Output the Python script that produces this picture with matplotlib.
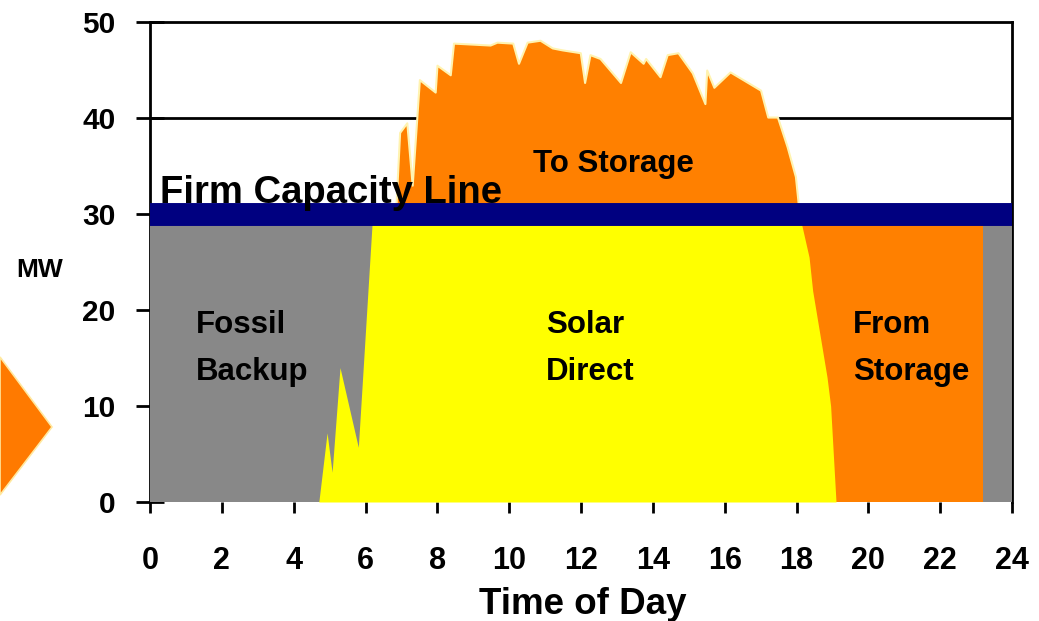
import numpy as np
import matplotlib
matplotlib.use('Agg')
import matplotlib.pyplot as plt
from matplotlib.patches import Polygon

plt.rcParams['font.family'] = ['Liberation Sans', 'DejaVu Sans']

# solar output over the day (hour, MW)
solar_hours = [4.7, 4.93, 5.07, 5.29, 5.8, 6.18, 6.5, 6.85, 6.95, 7.15, 7.3, 7.5,
               7.94, 7.99, 8.36, 8.45, 9.47, 9.66, 10.1, 10.26, 10.5, 10.86, 11.2,
               11.47, 11.98, 12.1, 12.25, 12.53, 13.1, 13.37, 13.73, 13.8, 14.2,
               14.4, 14.7, 15.1, 15.45, 15.5, 15.7, 16.15, 17.0, 17.2, 17.47, 17.74,
               17.97, 18.05, 18.15, 18.35, 18.45, 18.85, 18.95, 19.1]
solar_mw = [0, 7.2, 3.1, 14, 5.7, 28.8, 30.0, 31.0, 38.5, 39.5, 33, 44,
            42.7, 45.5, 44.5, 47.8, 47.6, 47.9, 47.8, 45.7, 47.9, 48.1, 47.3,
            47.1, 46.8, 43.7, 46.6, 46.2, 43.7, 46.9, 45.7, 46.2, 44.3,
            46.6, 46.8, 44.7, 41.5, 45, 43.2, 44.8, 42.9, 40.1, 40.1, 37,
            33.9, 31.0, 28.8, 25.5, 22, 13, 10, 0]

firm_capacity = 30
storage_start = 18.0
storage_end = 23.2
x_ticks = list(range(0, 25, 2))
y_ticks = [0, 10, 20, 30, 40, 50]

hours = np.array(solar_hours)
solar = np.array(solar_mw)

fig = plt.figure(figsize=(10.39, 6.21), dpi=100)
ax = fig.add_axes([150 / 1039, 119 / 621, 862 / 1039, 480 / 621])

orange = '#FF8000'
gray = '#888888'
yellow = '#FFFF00'
navy = '#000080'

ax.axhline(40, color='black', lw=2, zorder=1)

# fossil backup under the firm line
ax.fill_between([0, 24], 0, firm_capacity, color=gray, lw=0, zorder=3)
# from storage
ax.fill_between([storage_start, storage_end], 0, firm_capacity, color=orange, lw=0, zorder=3)
# solar direct
ax.fill_between(hours, 0, np.minimum(solar, firm_capacity), color=yellow, lw=0, zorder=4)
# to storage
ax.fill_between(hours, firm_capacity, solar, where=solar >= firm_capacity,
                facecolor=orange, edgecolor='#FFF3B0', lw=1.5, zorder=4)
# firm capacity line
ax.axhline(firm_capacity, color=navy, lw=16.5, zorder=5)

ax.set_xlim(0, 24)
ax.set_ylim(0, 50)
ax.set_xticks(x_ticks)
ax.set_yticks(y_ticks)
ax.tick_params(axis='y', direction='inout', length=20, width=2, labelsize=21.5, pad=15)
ax.tick_params(axis='x', direction='out', length=8, width=2, labelsize=22, pad=24)
for lab in ax.get_xticklabels() + ax.get_yticklabels():
    lab.set_fontweight('bold')
for s in ['left', 'right', 'top']:
    ax.spines[s].set_linewidth(2)
ax.spines['bottom'].set_visible(False)

txt = dict(fontsize=22.5, fontweight='bold', color='black', zorder=6, va='baseline', ha='left')
ax.text(0.28, 31.1, 'Firm Capacity Line', **dict(txt, fontsize=27.5))
ax.text(10.67, 34.4, 'To Storage', **txt)
ax.text(1.28, 17.6, 'Fossil', **txt)
ax.text(1.28, 12.7, 'Backup', **txt)
ax.text(11.03, 17.6, 'Solar', **txt)
ax.text(11.03, 12.7, 'Direct', **txt)
ax.text(19.58, 17.6, 'From', **txt)
ax.text(19.58, 12.7, 'Storage', **txt)

fig.text(40 / 1039, 1 - 270 / 621, 'MW', ha='center', va='center', fontsize=19, fontweight='bold')
fig.text(583 / 1039, 1 - 604 / 621, 'Time of Day', ha='center', va='center', fontsize=26.5, fontweight='bold')

# arrow from the slide on the left
arrow = Polygon([(0, 1 - 357 / 621), (52 / 1039, 1 - 427 / 621), (0, 1 - 495 / 621)],
                closed=True, transform=fig.transFigure, facecolor='#FF7A00',
                edgecolor='#FFE9A0', lw=1.2)
fig.patches.append(arrow)

fig.savefig('out.png', dpi=100)
